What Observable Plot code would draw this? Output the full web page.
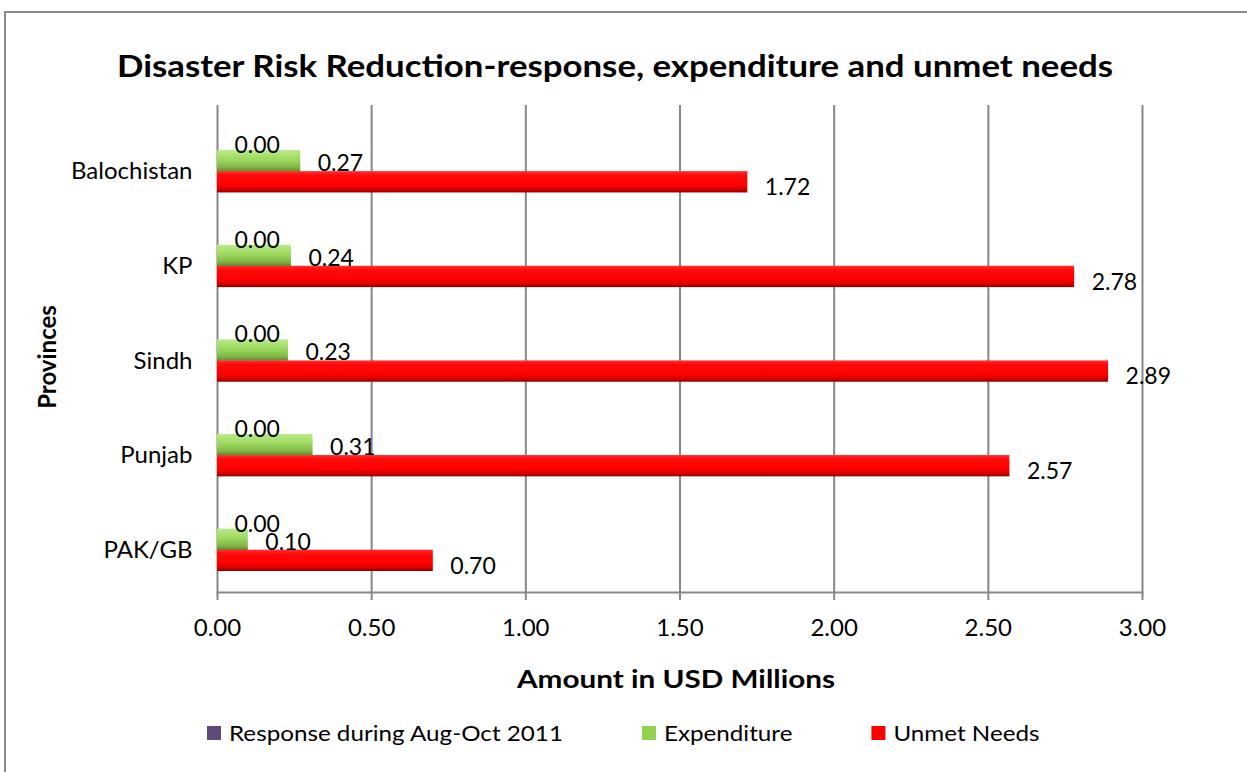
<!DOCTYPE html>
<html>
<head>
<meta charset="utf-8">
<script src="https://cdn.jsdelivr.net/npm/d3@7"></script>
<script src="https://cdn.jsdelivr.net/npm/@observablehq/plot@0.6"></script>
<style>
  html, body { margin: 0; padding: 0; background: #fff; }
  #wrap { position: relative; width: 1247px; height: 772px; overflow: hidden; }
  #border { position: absolute; left: 4px; top: 11px; width: 1400px; height: 900px;
            border-left: 2px solid #8a8a8a; border-top: 2px solid #8a8a8a; box-sizing: border-box; }
  #chart { position: absolute; left: 0; top: 0; }
</style>
</head>
<body>
<div id="wrap">
  <div id="border"></div>
  <div id="chart"></div>
</div>
<script>
// ---- data ----
const provinces = ["Balochistan", "KP", "Sindh", "Punjab", "PAK/GB"];
const response = [0.00, 0.00, 0.00, 0.00, 0.00];
const expenditure = [0.27, 0.24, 0.23, 0.31, 0.10];
const unmet = [1.72, 2.78, 2.89, 2.57, 0.70];
const seriesNames = ["Response during Aug-Oct 2011", "Expenditure", "Unmet Needs"];
const seriesColors = ["#604A7B", "#92D050", "#FF0000"];
const xTicks = [0, 0.5, 1, 1.5, 2, 2.5, 3];
const titleText = "Disaster Risk Reduction-response, expenditure and unmet needs";
const xLabel = "Amount in USD Millions";
const yLabel = "Provinces";

const data = provinces.map((p, i) => ({province: p, response: response[i], expenditure: expenditure[i], unmet: unmet[i]}));
const fmt = d3.format(".2f");
const FONT = "Lato, 'Open Sans', sans-serif";

const plot = Plot.plot({
  width: 1247,
  height: 772,
  marginTop: 105,
  marginBottom: 180,
  marginLeft: 217,
  marginRight: 105,
  style: {fontFamily: FONT, fontSize: "23px", color: "#000", background: "transparent", overflow: "visible"},
  x: {domain: [0, 3]},
  y: {domain: provinces, paddingInner: 0.109, paddingOuter: 0.1275, align: 1, round: false},
  marks: [
    Plot.gridX(xTicks, {stroke: "#878787", strokeOpacity: 1, strokeWidth: 2}),
    Plot.barX(data, {y: "province", x: "response", fill: "url(#gPurple)", insetTop: 0, insetBottom: 63}),
    Plot.barX(data, {y: "province", x: "expenditure", fill: "url(#gGreen)", insetTop: 21, insetBottom: 42}),
    Plot.barX(data, {y: "province", x: "unmet", fill: "url(#gRed)", insetTop: 42, insetBottom: 21}),
    Plot.text(data, {y: "province", x: "response", text: d => fmt(d.response), dx: 17, dy: -26, textAnchor: "start", fill: "#000"}),
    Plot.text(data, {y: "province", x: "expenditure", text: d => fmt(d.expenditure), dx: 17, dy: -8, textAnchor: "start", fill: "#000"}),
    Plot.text(data, {y: "province", x: "unmet", text: d => fmt(d.unmet), dx: 17, dy: 16, textAnchor: "start", fill: "#000"}),
    Plot.frame({anchor: "bottom", stroke: "#878787", strokeWidth: 2}),
    Plot.axisX({ticks: xTicks, tickFormat: fmt, tickSize: 8, tickPadding: 18, stroke: "#878787", strokeWidth: 2, label: null, fontSize: 24}),
    Plot.axisY({tickSize: 0, tickPadding: 25, label: null, fontSize: 24})
  ]
});

document.getElementById("chart").appendChild(plot);

// gradients (Excel-like bar shading)
const svg = d3.select(plot);
const defs = svg.insert("defs", ":first-child");
function grad(id, stops) {
  const g = defs.append("linearGradient").attr("id", id).attr("x1", 0).attr("y1", 0).attr("x2", 0).attr("y2", 1);
  stops.forEach(([o, c]) => g.append("stop").attr("offset", o).attr("stop-color", c));
}
grad("gPurple", [[0, "#7a6396"], [1, seriesColors[0]]]);
grad("gGreen", [[0, "#b9ea88"], [0.45, "#9cd95e"], [0.8, "#80b646"], [1, "#5b8a2c"]]);
grad("gRed", [[0, "#ff3030"], [0.2, "#ff0a0a"], [0.65, "#ff0000"], [0.85, "#d80000"], [1, "#8c0000"]]);

// titles
function stretched(sel, target) {
  sel.attr("textLength", target).attr("lengthAdjust", "spacingAndGlyphs");
  return sel;
}
stretched(svg.append("text").attr("x", 615).attr("y", 77).attr("text-anchor", "middle")
  .style("font", `bold 31px ${FONT}`).text(titleText), 996);
stretched(svg.append("text").attr("x", 676).attr("y", 688).attr("text-anchor", "middle")
  .style("font", `bold 25px ${FONT}`).text(xLabel), 318);
svg.append("text").attr("transform", "translate(56,357) rotate(-90)").attr("text-anchor", "middle")
  .style("font", `bold 24px ${FONT}`).text(yLabel);

// legend
const lg = svg.append("g").style("font", `22px ${FONT}`).attr("text-anchor", "start");
let lx = 207;
seriesNames.forEach((name, i) => {
  lg.append("rect").attr("x", lx).attr("y", 726).attr("width", 14).attr("height", 14).attr("fill", seriesColors[i]);
  const t = lg.append("text").attr("x", lx + 22).attr("y", 741).attr("text-anchor", "start").text(name);
  const w = t.node().getComputedTextLength() * 1.1;
  t.attr("textLength", w).attr("lengthAdjust", "spacingAndGlyphs");
  lx += 22 + w + 79;
});
</script>
</body>
</html>
